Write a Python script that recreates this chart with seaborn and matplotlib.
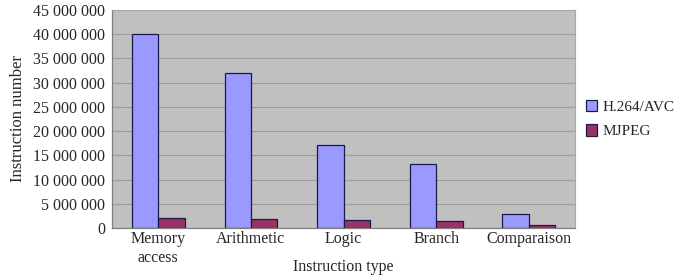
import pandas as pd
import matplotlib
matplotlib.use("Agg")
import matplotlib.pyplot as plt
import matplotlib.ticker as mticker
import seaborn as sns

# ── DATA ──────────────────────────────────────────────────────────────────────
categories = ["Memory\naccess", "Arithmetic", "Logic", "Branch", "Comparaison"]
h264_vals  = [40_000_000, 31_900_000, 17_100_000, 13_150_000, 2_900_000]
mjpeg_vals = [2_100_000, 1_850_000, 1_700_000, 1_400_000, 600_000]
series     = ["H.264/AVC", "MJPEG"]
yticks     = list(range(0, 45_000_001, 5_000_000))

df = pd.DataFrame({
    "type": categories * 2,
    "codec": [series[0]] * len(categories) + [series[1]] * len(categories),
    "count": h264_vals + mjpeg_vals,
})

sns.set_theme(style="white")
plt.rcParams["font.family"] = ["Liberation Serif", "DejaVu Serif"]

fig = plt.figure(figsize=(6.83, 2.8), dpi=100)
ax = fig.add_axes([0.164, 0.186, 0.678, 0.778])
ax.set_facecolor("#c0c0c0")

sns.barplot(data=df, x="type", y="count", hue="codec", ax=ax,
            palette=["#9999ff", "#993366"], width=0.57,
            edgecolor="#1a1a4a", linewidth=0.9, saturation=1)

ax.set_ylim(0, 45_000_000)
ax.set_xlim(-0.5, len(categories) - 0.5)
ax.set_yticks(yticks)
ax.yaxis.set_major_formatter(mticker.FuncFormatter(
    lambda v, _: f"{int(v):,}".replace(",", " ")))
ax.yaxis.grid(True, color="#9c9c9c", linewidth=0.8)
ax.set_axisbelow(True)

# x ticks at category boundaries
ax.set_xticks(range(len(categories)))
ax.set_xticklabels(categories, linespacing=1.25)
ax.xaxis.set_minor_locator(mticker.FixedLocator(
    [i + 0.5 for i in range(len(categories))]))
ax.tick_params(axis="x", which="major", length=0, labelsize=11.5, pad=2)
ax.tick_params(axis="x", which="minor", length=4, color="#808080", width=0.8)
ax.tick_params(axis="y", length=4, color="#808080", width=0.8,
               labelsize=11.5, pad=1)

for side in ["left", "bottom"]:
    ax.spines[side].set_color("#808080")
    ax.spines[side].set_linewidth(0.9)
for side in ["top", "right"]:
    ax.spines[side].set_color("#a8a8a8")
    ax.spines[side].set_linewidth(0.8)

ax.set_xlabel("Instruction type", fontsize=11.5, labelpad=-5)
ax.set_ylabel("Instruction number", fontsize=12, labelpad=5)

leg = ax.legend(loc="center left", bbox_to_anchor=(1.0, 0.5),
                frameon=False, fontsize=11, handlelength=0.75,
                handleheight=0.75, handletextpad=0.35, labelspacing=0.7,
                borderaxespad=0.3)

fig.savefig("out.png", dpi=100)
